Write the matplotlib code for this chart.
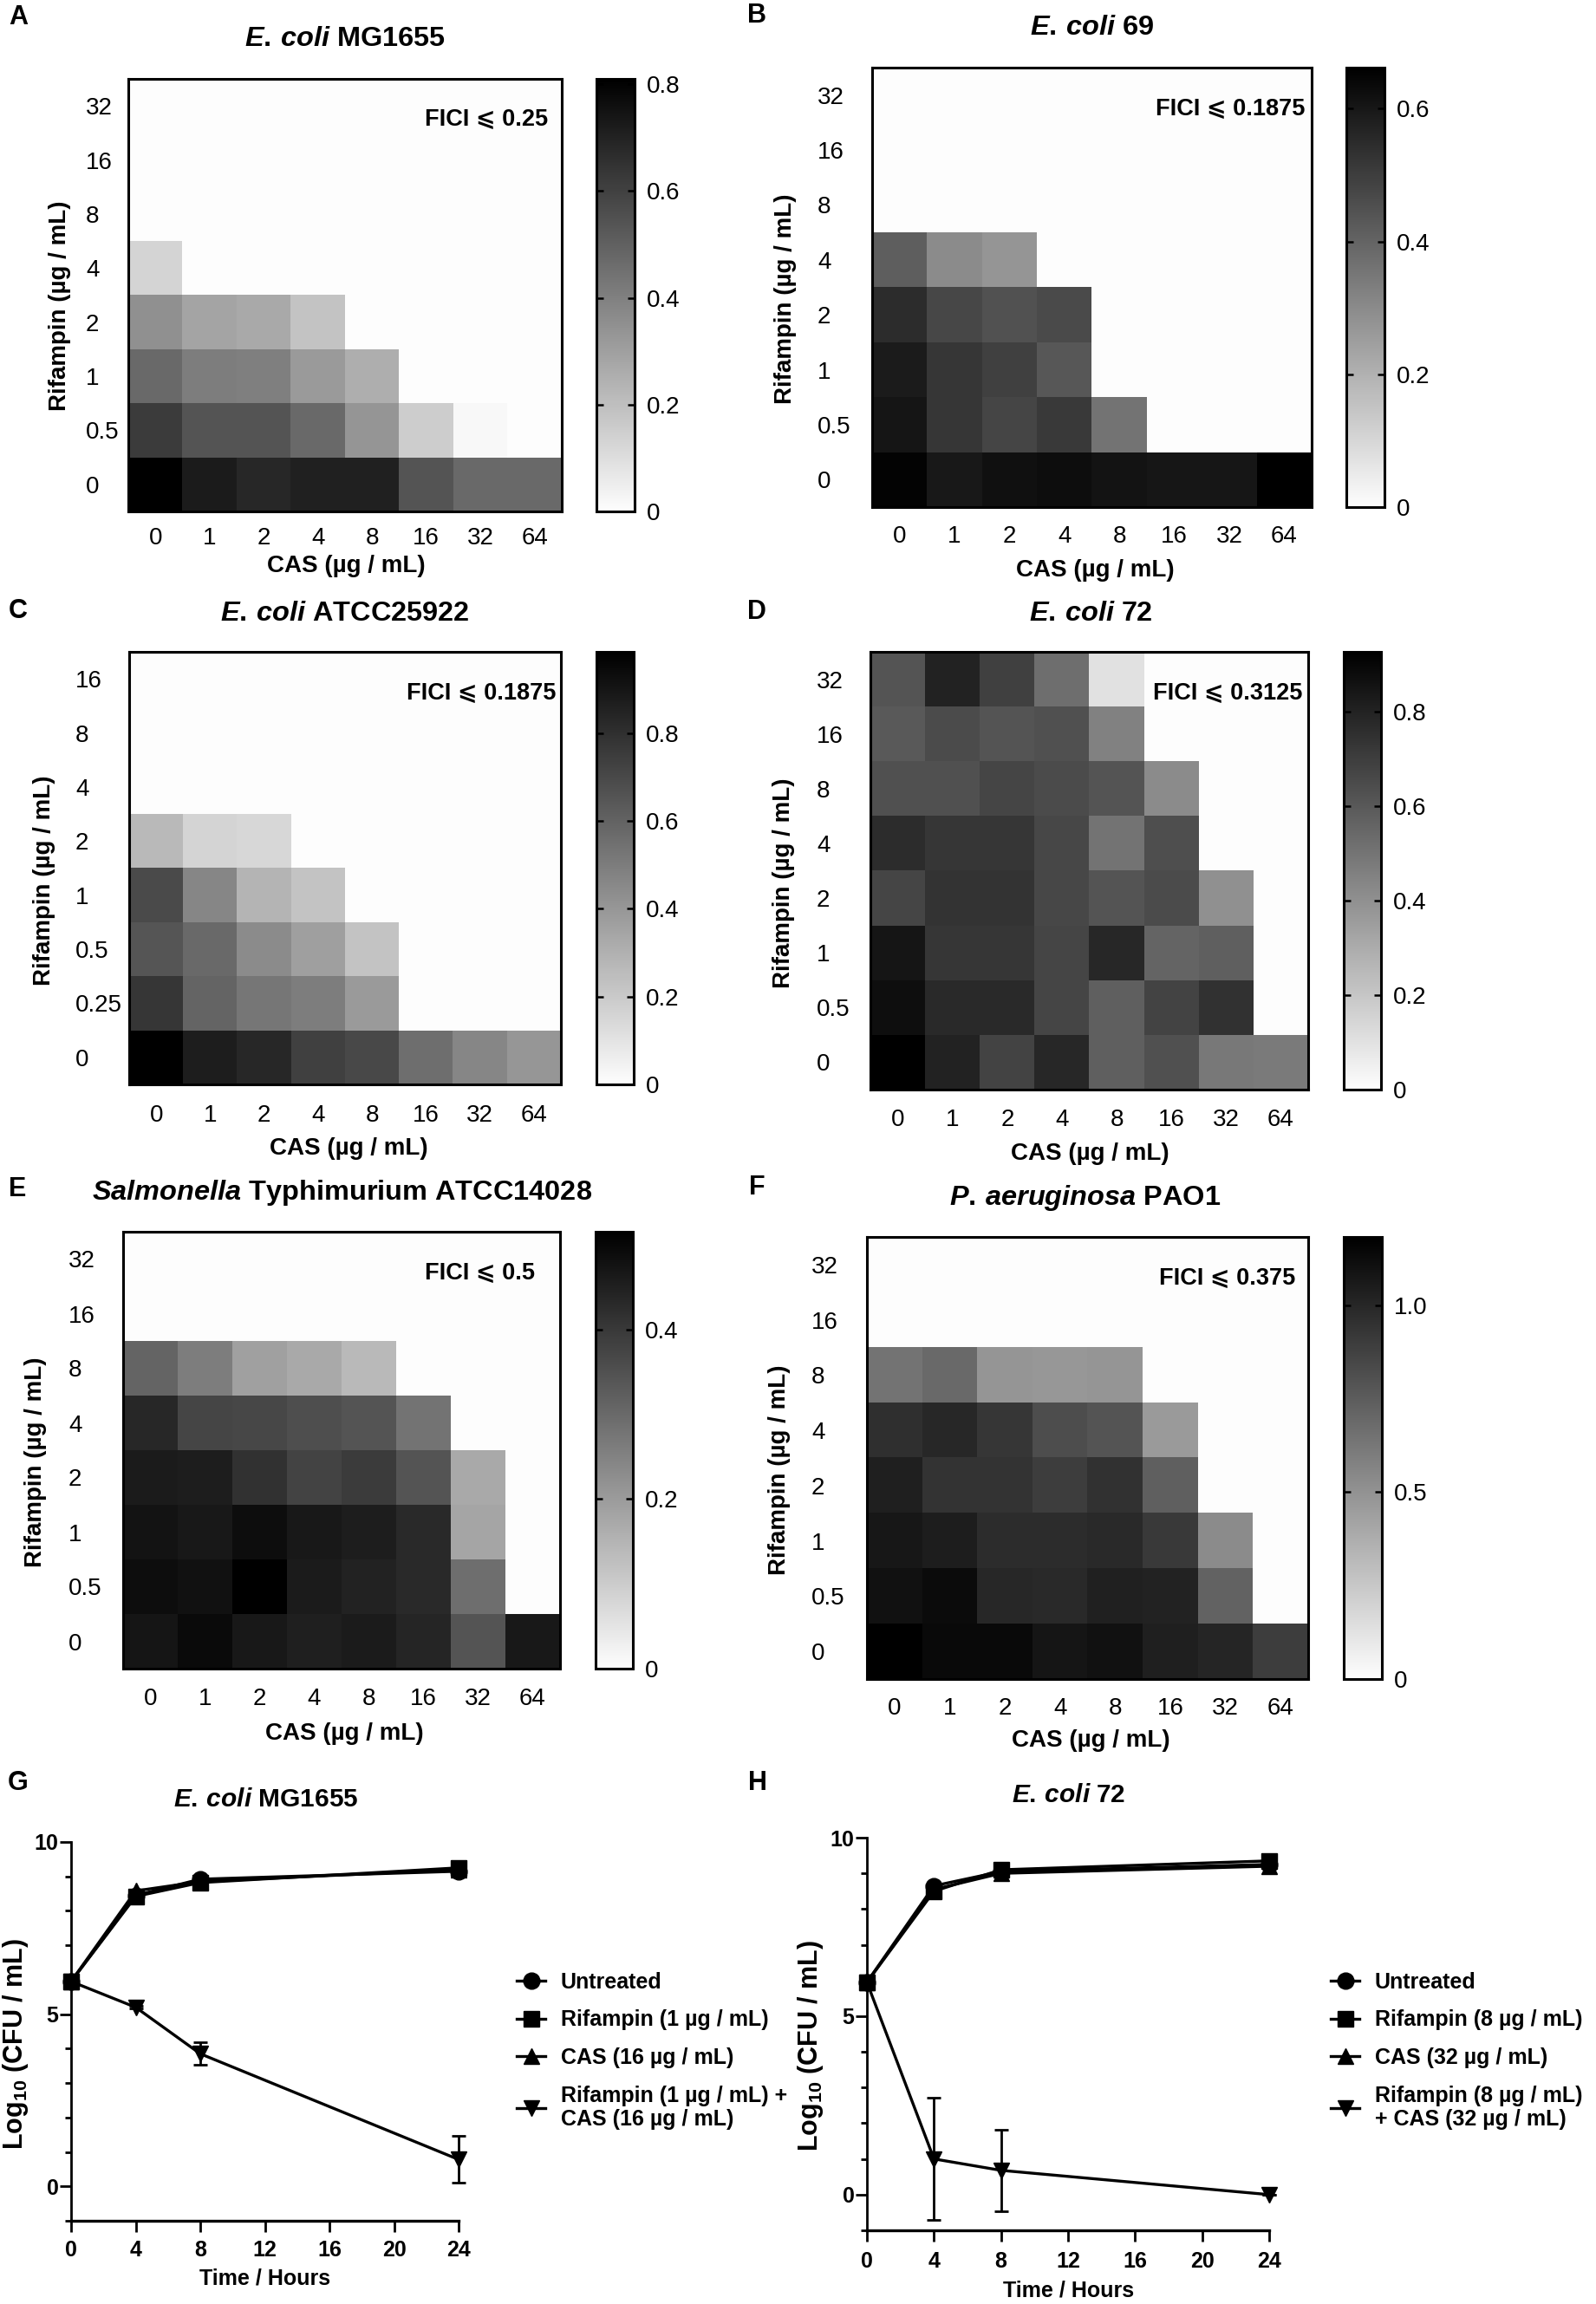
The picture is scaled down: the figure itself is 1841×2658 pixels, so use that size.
import numpy as np
import matplotlib
matplotlib.use('Agg')
import matplotlib.pyplot as plt
from matplotlib.colors import LinearSegmentedColormap

plt.rcParams['font.family'] = ['Liberation Sans', 'DejaVu Sans']
plt.rcParams['mathtext.fontset'] = 'custom'
plt.rcParams['mathtext.rm'] = 'Liberation Sans:bold'
plt.rcParams['mathtext.it'] = 'Liberation Sans:italic:bold'
plt.rcParams['mathtext.bf'] = 'Liberation Sans:bold'

W, H = 1841, 2658

cas_labels = ['0', '1', '2', '4', '8', '16', '32', '64']
rif_labels = ['32', '16', '8', '4', '2', '1', '0.5', '0']
rif_labels_c = ['16', '8', '4', '2', '1', '0.5', '0.25', '0']

# growth index read from the grey levels, rows top to bottom
heat_a = [[0, 0, 0, 0, 0, 0, 0, 0],
          [0, 0, 0, 0, 0, 0, 0, 0],
          [0, 0, 0, 0, 0, 0, 0, 0],
          [0.13, 0, 0, 0, 0, 0, 0, 0],
          [0.346, 0.282, 0.266, 0.186, 0, 0, 0, 0],
          [0.474, 0.41, 0.40, 0.314, 0.25, 0, 0, 0],
          [0.618, 0.538, 0.538, 0.474, 0.33, 0.154, 0.016, 0],
          [0.81, 0.72, 0.682, 0.704, 0.704, 0.538, 0.474, 0.474]]
heat_b = [[0, 0, 0, 0, 0, 0, 0, 0],
          [0, 0, 0, 0, 0, 0, 0, 0],
          [0, 0, 0, 0, 0, 0, 0, 0],
          [0.414, 0.296, 0.27, 0, 0, 0, 0, 0],
          [0.545, 0.474, 0.448, 0.466, 0, 0, 0, 0],
          [0.589, 0.519, 0.493, 0.432, 0, 0, 0, 0],
          [0.605, 0.519, 0.479, 0.511, 0.362, 0, 0, 0],
          [0.65, 0.597, 0.616, 0.624, 0.61, 0.6, 0.6, 0.658]]
heat_c = [[0, 0, 0, 0, 0, 0, 0, 0],
          [0, 0, 0, 0, 0, 0, 0, 0],
          [0, 0, 0, 0, 0, 0, 0, 0],
          [0.265, 0.16, 0.148, 0, 0, 0, 0, 0],
          [0.693, 0.459, 0.284, 0.226, 0, 0, 0, 0],
          [0.654, 0.576, 0.44, 0.362, 0.226, 0, 0, 0],
          [0.77, 0.595, 0.525, 0.498, 0.381, 0, 0, 0],
          [0.985, 0.868, 0.829, 0.732, 0.704, 0.556, 0.459, 0.40]]
heat_d = [[0.615, 0.798, 0.688, 0.523, 0.102, 0, 0, 0],
          [0.597, 0.651, 0.615, 0.633, 0.45, 0, 0, 0],
          [0.633, 0.633, 0.67, 0.651, 0.615, 0.414, 0, 0],
          [0.761, 0.725, 0.725, 0.662, 0.505, 0.64, 0, 0],
          [0.67, 0.736, 0.736, 0.662, 0.615, 0.651, 0.395, 0],
          [0.845, 0.725, 0.725, 0.67, 0.78, 0.56, 0.578, 0],
          [0.871, 0.772, 0.772, 0.67, 0.578, 0.677, 0.743, 0],
          [0.926, 0.798, 0.677, 0.78, 0.578, 0.633, 0.487, 0.479]]
heat_e = [[0, 0, 0, 0, 0, 0, 0, 0],
          [0, 0, 0, 0, 0, 0, 0, 0],
          [0.311, 0.261, 0.189, 0.169, 0.138, 0, 0, 0],
          [0.434, 0.373, 0.369, 0.356, 0.342, 0.281, 0, 0],
          [0.458, 0.454, 0.413, 0.377, 0.393, 0.342, 0.169, 0],
          [0.474, 0.464, 0.485, 0.464, 0.454, 0.43, 0.179, 0],
          [0.485, 0.478, 0.515, 0.458, 0.444, 0.43, 0.291, 0],
          [0.47, 0.491, 0.464, 0.45, 0.458, 0.438, 0.342, 0.464]]
heat_f = [[0, 0, 0, 0, 0, 0, 0, 0],
          [0, 0, 0, 0, 0, 0, 0, 0],
          [0.645, 0.692, 0.482, 0.472, 0.482, 0, 0, 0],
          [0.959, 0.996, 0.926, 0.818, 0.786, 0.458, 0, 0],
          [1.033, 0.94, 0.94, 0.893, 0.949, 0.739, 0, 0],
          [1.071, 1.043, 0.973, 0.973, 0.987, 0.912, 0.528, 0],
          [1.099, 1.127, 0.996, 0.987, 1.029, 1.019, 0.725, 0],
          [1.183, 1.136, 1.136, 1.08, 1.099, 1.033, 1.005, 0.893]]

# time kill curves
hours = [0, 4, 8, 24]
g_untreated = [5.95, 8.45, 8.92, 9.15]
g_rif = [5.95, 8.42, 8.82, 9.25]
g_cas = [5.95, 8.58, 8.85, 9.2]
g_combo = [5.95, 5.2, 3.85, 0.78]
g_combo_err = [0, 0.04, 0.33, 0.68]
h_untreated = [5.95, 8.65, 9.05, 9.25]
h_rif = [5.95, 8.5, 9.1, 9.35]
h_cas = [5.95, 8.55, 9.0, 9.2]
h_combo = [5.95, 1.0, 0.68, 0.0]
h_combo_err = [0, 1.72, 1.14, 0]

gray = LinearSegmentedColormap.from_list('wk', ['#fdfdfd', '#000000'])


def box(x0, x1, y0, y1):
    return [x0 / W, 1 - y1 / H, (x1 - x0) / W, (y1 - y0) / H]


def fx(x):
    return x / W


def fy(y):
    return 1 - y / H


fig = plt.figure(figsize=(W / 100, H / 100), dpi=100)

panels = [
    dict(data=heat_a, rows=rif_labels, vmax=0.81, ticks=[0, 0.2, 0.4, 0.6, 0.8], tl=['0', '0.2', '0.4', '0.6', '0.8'],
         title=r'$\mathit{E.\,coli}$ MG1655', fici='FICI ⩽ 0.25', letter='A',
         ax=(148, 648, 91, 590), cax=(688, 732), ylab_left=99, ylab=(69, 353), xt_y=618, xl=(399, 653),
         tt=(398, 45), fi=(632, 138), le=(10, 20)),
    dict(data=heat_b, rows=rif_labels, vmax=0.662, ticks=[0, 0.2, 0.4, 0.6], tl=['0', '0.2', '0.4', '0.6'],
         title=r'$\mathit{E.\,coli}$ 69', fici='FICI ⩽ 0.1875', letter='B',
         ax=(1006, 1513, 78, 585), cax=(1553, 1597), ylab_left=943, ylab=(906, 345), xt_y=616, xl=(1263, 658),
         tt=(1260, 32), fi=(1505, 126), le=(862, 18)),
    dict(data=heat_c, rows=rif_labels_c, vmax=0.985, ticks=[0, 0.2, 0.4, 0.6, 0.8], tl=['0', '0.2', '0.4', '0.6', '0.8'],
         title=r'$\mathit{E.\,coli}$ ATCC25922', fici='FICI ⩽ 0.1875', letter='C',
         ax=(149, 647, 752, 1251), cax=(688, 731), ylab_left=87, ylab=(51, 1016), xt_y=1284, xl=(402, 1325),
         tt=(398, 708), fi=(641, 800), le=(10, 705)),
    dict(data=heat_d, rows=rif_labels, vmax=0.926, ticks=[0, 0.2, 0.4, 0.6, 0.8], tl=['0', '0.2', '0.4', '0.6', '0.8'],
         title=r'$\mathit{E.\,coli}$ 72', fici='FICI ⩽ 0.3125', letter='D',
         ax=(1004, 1509, 752, 1257), cax=(1550, 1593), ylab_left=942, ylab=(904, 1019), xt_y=1289, xl=(1257, 1331),
         tt=(1258, 708), fi=(1502, 800), le=(862, 706)),
    dict(data=heat_e, rows=rif_labels, vmax=0.515, ticks=[0, 0.2, 0.4], tl=['0', '0.2', '0.4'],
         title=r'$\mathit{Salmonella}$ Typhimurium ATCC14028', fici='FICI ⩽ 0.5', letter='E',
         ax=(142, 646, 1421, 1925), cax=(687, 730), ylab_left=79, ylab=(41, 1687), xt_y=1957, xl=(397, 2000),
         tt=(395, 1376), fi=(617, 1469), le=(10, 1372)),
    dict(data=heat_f, rows=rif_labels, vmax=1.183, ticks=[0, 0.5, 1.0], tl=['0', '0.5', '1.0'],
         title=r'$\mathit{P.\,aeruginosa}$ PAO1', fici='FICI ⩽ 0.375', letter='F',
         ax=(1000, 1509, 1427, 1937), cax=(1550, 1594), ylab_left=936, ylab=(899, 1696), xt_y=1968, xl=(1258, 2008),
         tt=(1252, 1382), fi=(1494, 1475), le=(864, 1370)),
]

for p in panels:
    x0, x1, y0, y1 = p['ax']
    ax = fig.add_axes(box(x0, x1, y0, y1))
    im = ax.imshow(np.array(p['data']), cmap=gray, vmin=0, vmax=p['vmax'], aspect='auto', interpolation='nearest')
    ax.set_xticks(range(8))
    ax.set_xticklabels(cas_labels, fontsize=20)
    ax.set_yticks(range(8))
    ax.set_yticklabels(p['rows'], fontsize=20, ha='left')
    ax.tick_params(axis='x', length=0, pad=(p['xt_y'] - 10 - y1) * 0.72)
    ax.tick_params(axis='y', length=0, pad=(x0 - p['ylab_left']) * 0.72)
    for s in ax.spines.values():
        s.set_linewidth(2.2)
    ax.set_xlabel('CAS (µg / mL)', fontsize=20, fontweight='bold', va='center')
    ax.xaxis.set_label_coords(fx(p['xl'][0]), fy(p['xl'][1]), transform=fig.transFigure)
    ax.set_ylabel('Rifampin (µg / mL)', fontsize=20, fontweight='bold', va='center')
    ax.yaxis.set_label_coords(fx(p['ylab'][0]), fy(p['ylab'][1]), transform=fig.transFigure)
    ax.set_title(p['title'], fontsize=23.4, fontweight='bold', x=fx(p['tt'][0]), y=fy(p['tt'][1]),
                 transform=fig.transFigure, va='center')
    fig.text(fx(p['fi'][0]), fy(p['fi'][1]), p['fici'], fontsize=19.5, fontweight='bold', ha='right', va='center')
    fig.text(fx(p['le'][0]), fy(p['le'][1]), p['letter'], fontsize=22, fontweight='bold', ha='left', va='center')

    cax = fig.add_axes(box(p['cax'][0], p['cax'][1], y0, y1))
    cb = fig.colorbar(im, cax=cax)
    cb.set_ticks(p['ticks'])
    cb.set_ticklabels(p['tl'])
    cax.tick_params(axis='y', direction='in', left=True, right=True, length=5.5, width=1.8, labelsize=20, pad=10)
    cb.outline.set_linewidth(2.2)

line_panels = [
    dict(series=(g_untreated, g_rif, g_cas, g_combo), err=g_combo_err, title=r'$\mathit{E.\,coli}$ MG1655', letter='G',
         labels=['Untreated', 'Rifampin (1 µg / mL)', 'CAS (16 µg / mL)', 'Rifampin (1 µg / mL) +\nCAS (16 µg / mL)'],
         ax=(82, 529, 2125, 2562), tt=(307, 2076), le=(9, 2057), xl=(306, 2628), yl=(18, 2358), xt_y=2593,
         leg=(596, 2275)),
    dict(series=(h_untreated, h_rif, h_cas, h_combo), err=h_combo_err, title=r'$\mathit{E.\,coli}$ 72', letter='H',
         labels=['Untreated', 'Rifampin (8 µg / mL)', 'CAS (32 µg / mL)', 'Rifampin (8 µg / mL)\n+ CAS (32 µg / mL)'],
         ax=(1000, 1464, 2120, 2573), tt=(1233, 2071), le=(863, 2057), xl=(1233, 2642), yl=(935, 2360), xt_y=2606,
         leg=(1535, 2275)),
]

for p in line_panels:
    x0, x1, y0, y1 = p['ax']
    ax = fig.add_axes(box(x0, x1, y0, y1))
    un, ri, ca, co = p['series']
    style = dict(color='black', lw=2.4, ms=13.5, clip_on=False)
    ax.plot(hours, un, marker='o', label=p['labels'][0], zorder=3, **style)
    ax.plot(hours, ri, marker='s', label=p['labels'][1], zorder=5, **style)
    ax.plot(hours, ca, marker='^', label=p['labels'][2], zorder=4, **style)
    ax.plot(hours, co, marker='v', label=p['labels'][3], zorder=3, **style)
    ax.errorbar(hours[1:], co[1:], yerr=p['err'][1:], fmt='none', ecolor='black', elinewidth=2, capsize=6,
                capthick=2, clip_on=False)
    ax.set_xlim(0, 24)
    ax.set_ylim(-1, 10)
    ax.set_xticks(range(0, 25, 4))
    ax.set_yticks([0, 5, 10])
    ax.set_yticks(range(-1, 11), minor=True)
    ax.spines['top'].set_visible(False)
    ax.spines['right'].set_visible(False)
    ax.spines['left'].set_linewidth(2)
    ax.spines['bottom'].set_linewidth(2.4)
    ax.tick_params(axis='both', which='major', length=9.5, width=2, labelsize=18)
    ax.tick_params(axis='y', which='minor', length=5, width=2)
    ax.tick_params(axis='y', which='major', pad=1)
    ax.tick_params(axis='x', which='major', pad=(p['xt_y'] - 9 - y1) * 0.72 - 9.5)
    for t in ax.get_xticklabels() + ax.get_yticklabels():
        t.set_fontweight('bold')
    ax.set_xlabel('Time / Hours', fontsize=18, fontweight='bold', va='center')
    ax.xaxis.set_label_coords(fx(p['xl'][0]), fy(p['xl'][1]), transform=fig.transFigure)
    ax.set_ylabel('Log$_{10}$ (CFU / mL)', fontsize=22, fontweight='bold', va='center')
    ax.yaxis.set_label_coords(fx(p['yl'][0]), fy(p['yl'][1]), transform=fig.transFigure)
    ax.set_title(p['title'], fontsize=21.5, fontweight='bold', x=fx(p['tt'][0]), y=fy(p['tt'][1]),
                 transform=fig.transFigure, va='center')
    fig.text(fx(p['le'][0]), fy(p['le'][1]), p['letter'], fontsize=22, fontweight='bold', ha='left', va='center')
    ax.legend(loc='upper left', bbox_to_anchor=(fx(p['leg'][0]), fy(p['leg'][1])), bbox_transform=fig.transFigure,
              frameon=False, borderpad=0, borderaxespad=0, handlelength=1.33, handletextpad=0.7, labelspacing=0.78,
              prop=dict(size=18, weight='bold'))

fig.savefig('out.png', dpi=100)
